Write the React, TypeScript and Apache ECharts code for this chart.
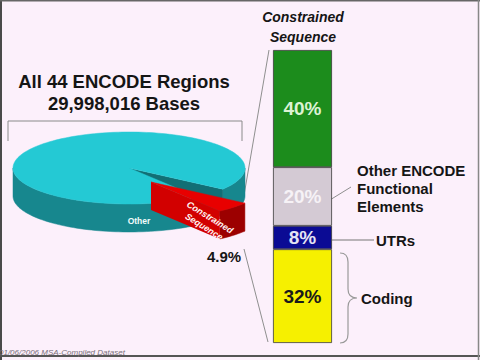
import React, { useEffect, useRef } from 'react';
import * as echarts from 'echarts';

// ---- data ----
const titleLines = ['All 44 ENCODE Regions', '29,998,016 Bases'];
const pieNames = ['Other', 'Constrained Sequence'];
const pieValues = [95.1, 4.9];
const pieValueLabel = '4.9%';

const barCategories = ['Constrained\nSequence'];
const segNames = ['Coding', 'UTRs', 'Other ENCODE Functional Elements', 'Unannotated'];
const segValues = [32, 8, 20, 40];
const sideLabels = ['Coding', 'UTRs', 'Other ENCODE\nFunctional\nElements'];
const footerText = '01/06/2006 MSA-Compiled Dataset';

// ---- styles ----
const FONT = '"Liberation Sans", Arial, sans-serif';
const PIE = { cx: 129, cy: 168, rx: 116, ry: 36, depth: 28, start: 53.6 };
const explode: [number, number][] = [[0, 0], [22, 14]];
const topColors = ['#24c9d4', '#e80000'];
const sideColors = ['#17878e', '#9c0000'];
const cutColors = ['#126f75', '#d20000'];
const segColors = ['#f6f000', '#0b0b94', '#d4cad4', '#1c8c1c'];
const segLabelColors = ['#1a1a1a', '#e4e4f4', '#f6f2f6', '#dcf3d4'];

function App() {
  const ref = useRef<HTMLDivElement>(null);
  useEffect(() => {
    if (!ref.current) return;
    const chart = echarts.init(ref.current, undefined, { renderer: 'svg' });

    const total = pieValues.reduce((a, b) => a + b, 0);
    const pt = (t: number, ox: number, oy: number, dz = 0): number[] => {
      const r = (t * Math.PI) / 180;
      return [PIE.cx + ox + PIE.rx * Math.cos(r), PIE.cy + oy + PIE.ry * Math.sin(r) + dz];
    };
    const arc = (a0: number, a1: number, ox: number, oy: number, dz = 0) => {
      const pts: number[][] = [];
      const n = Math.max(2, Math.ceil(Math.abs(a1 - a0) / 2));
      for (let k = 0; k <= n; k++) pts.push(pt(a0 + ((a1 - a0) * k) / n, ox, oy, dz));
      return pts;
    };

    const renderItem = (params: any, api: any) => {
      const i = params.dataIndex;
      let before = 0;
      for (let k = 0; k < i; k++) before += pieValues[k];
      const v = api.value(0);
      const a0 = PIE.start + (before / total) * 360;
      const a1 = a0 + (v / total) * 360;
      const [ox, oy] = explode[i];
      const d = PIE.depth;
      const children: any[] = [];
      for (let k = -1; k <= 2; k++) {
        const s = Math.max(a0, 360 * k);
        const e = Math.min(a1, 360 * k + 180);
        if (e > s) {
          const top = arc(s, e, ox, oy);
          const bot = arc(e, s, ox, oy, d);
          children.push({ type: 'polygon', shape: { points: top.concat(bot) }, style: { fill: sideColors[i], stroke: sideColors[i], lineWidth: 0.5 } });
        }
      }
      const c = [PIE.cx + ox, PIE.cy + oy];
      const cd = [c[0], c[1] + d];
      const cosd = (t: number) => Math.cos((t * Math.PI) / 180);
      if (cosd(a1) > 0) {
        children.push({ type: 'polygon', shape: { points: [c, pt(a1, ox, oy), pt(a1, ox, oy, d), cd] }, style: { fill: cutColors[i] } });
      }
      if (cosd(a0) < 0) {
        children.push({ type: 'polygon', shape: { points: [c, pt(a0, ox, oy), pt(a0, ox, oy, d), cd] }, style: { fill: cutColors[i] } });
      }
      children.push({ type: 'polygon', shape: { points: [c].concat(arc(a0, a1, ox, oy)) }, style: { fill: topColors[i], stroke: topColors[i], lineWidth: 0.5 } });
      return { type: 'group', children };
    };

    const txt = (text: string, x: number, y: number, size: number, extra: any = {}) => ({
      type: 'text',
      x,
      y,
      z: 100,
      style: {
        text,
        fontSize: size,
        fontWeight: 'bold',
        fontFamily: FONT,
        fill: '#151515',
        textAlign: 'left',
        textVerticalAlign: 'middle',
        ...extra,
      },
    });

    const braceD = 'M340,253 Q348,253 348,262 L348,289 Q348,298 357,298 Q348,298 348,307 L348,334 Q348,343 340,343';
    echarts.graphic.registerShape('brace', echarts.graphic.extendPath(braceD, {}) as any);

    chart.setOption({
      animation: false,
      backgroundColor: '#fcf0fb',
      grid: { left: 273, width: 59, top: 50, height: 293 },
      xAxis: { type: 'category', data: barCategories, show: false },
      yAxis: { type: 'value', min: 0, max: 100, show: false },
      series: [
        {
          type: 'custom',
          coordinateSystem: 'none',
          renderItem,
          data: pieValues.map((v, i) => ({ name: pieNames[i], value: [v] })),
          silent: true,
        },
        ...segValues.map((v, i) => ({
          type: 'bar',
          name: segNames[i],
          stack: 'total',
          barWidth: 59,
          data: [v],
          itemStyle: { color: segColors[i], borderColor: '#3a3a3a', borderWidth: 0.8 },
          label: {
            show: true,
            position: 'inside',
            formatter: '{c}%',
            fontSize: 19,
            fontWeight: 'bold',
            fontFamily: FONT,
            color: segLabelColors[i],
          },
        })),
      ],
      graphic: [
        { type: 'line', shape: { x1: 1, y1: 0, x2: 1, y2: 360 }, style: { stroke: '#4a4a4a', lineWidth: 2 } },
        { type: 'line', shape: { x1: 0, y1: 0.75, x2: 480, y2: 0.75 }, style: { stroke: '#666', lineWidth: 1.5 } },
        { type: 'line', shape: { x1: 0, y1: 356, x2: 480, y2: 356 }, style: { stroke: '#555', lineWidth: 2 } },
        { type: 'line', shape: { x1: 478.5, y1: 0, x2: 478.5, y2: 360 }, style: { stroke: '#888', lineWidth: 1.5 } },
        txt(titleLines[0], 124, 81, 18.5, { textAlign: 'center' }),
        txt(titleLines[1], 124, 103, 18.5, { textAlign: 'center' }),
        { type: 'polyline', shape: { points: [[8, 141], [8, 121], [242, 121], [242, 141]] }, style: { stroke: '#8a8a8a', lineWidth: 1, fill: 'none' } },
        { type: 'line', shape: { x1: 269, y1: 50, x2: 242, y2: 207 }, style: { stroke: '#8f8f8f', lineWidth: 1 } },
        { type: 'line', shape: { x1: 244, y1: 249, x2: 268, y2: 342 }, style: { stroke: '#8f8f8f', lineWidth: 1 } },
        txt(pieNames[0], 139, 221, 8.5, { textAlign: 'center', fill: '#f2fbfb' }),
        {
          type: 'text',
          x: 207,
          y: 222,
          rotation: -0.56,
          z: 100,
          style: {
            text: 'Constrained\nSequence',
            fontSize: 9,
            fontWeight: 'bold',
            fontStyle: 'italic',
            fontFamily: FONT,
            fill: '#fff2f2',
            textAlign: 'center',
            textVerticalAlign: 'middle',
            lineHeight: 11,
          },
        },
        txt(pieValueLabel, 224, 256, 15, { textAlign: 'center' }),
        txt(barCategories[0], 303, 27, 14, { textAlign: 'center', fontStyle: 'italic', lineHeight: 20 }),
        txt(sideLabels[2], 357, 188, 15, { lineHeight: 18 }),
        { type: 'line', shape: { x1: 325, y1: 203, x2: 351, y2: 187 }, style: { stroke: '#8f8f8f', lineWidth: 1 } },
        txt(sideLabels[1], 376, 240, 15),
        { type: 'line', shape: { x1: 332, y1: 240, x2: 374, y2: 240 }, style: { stroke: '#777', lineWidth: 1.2 } },
        txt(sideLabels[0], 361, 298, 15),
        { type: 'brace', z: 50, style: { stroke: '#9a9a9a', lineWidth: 1.2, fill: 'none' } },
        txt(footerText, -1, 352, 8, { fontWeight: 'normal', fontStyle: 'italic', fill: '#7a6f7a' }),
      ],
    });
    return () => chart.dispose();
  }, []);
  return <div ref={ref} style={{ position: 'fixed', left: 0, top: 0, width: 480, height: 360 }} />;
}

export default App;
